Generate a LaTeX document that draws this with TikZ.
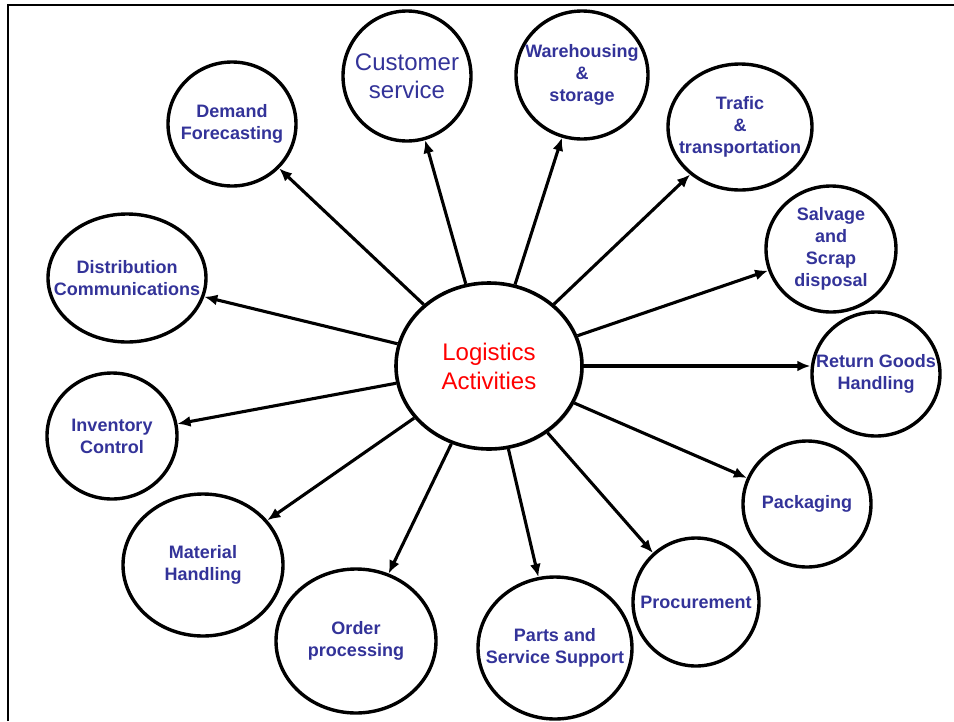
\documentclass[tikz,border=0pt]{standalone}
\usepackage{fontspec}
\setmainfont{Liberation Sans}
\usetikzlibrary{shapes.geometric, arrows.meta, shadows}
\definecolor{topicblue}{HTML}{333399}

\begin{document}
\begin{tikzpicture}[x=1pt, y=1pt,
  topic/.style={ellipse, draw, line width=3.4pt, fill=white, inner xsep=-40pt, inner ysep=0pt,
    align=center, text=topicblue, font=\bfseries\fontsize{18}{22}\selectfont},
  hub/.style={ellipse, draw, line width=3.6pt, fill=white, inner sep=0pt, align=center,
    text=red, font=\fontsize{24}{29}\selectfont,
    drop shadow={shadow xshift=1.8pt, shadow yshift=-1.5pt, fill=black!45}},
  link/.style={line width=3.1pt, -{Latex[length=13pt, width=11pt]}}]
\useasboundingbox (0,0) rectangle (954,-721);
\draw[line width=2.5pt] (8,-721) -- (8,-5) -- (954,-5);
% centre
\node[hub, minimum width=186pt, minimum height=166pt] (hub) at (489,-366) {Logistics\\Activities};
% activities round the centre
\node[topic, minimum width=128pt, minimum height=124pt] (demand) at (232,-124) {Demand\\Forecasting};
\node[topic, minimum width=128pt, minimum height=130pt, font=\fontsize{24}{28}\selectfont] (customer) at (407,-76) {Customer\\service};
\node[topic, minimum width=132pt, minimum height=128pt] (warehouse) at (582,-75) {Warehousing\\\&\\storage};
\node[topic, minimum width=144pt, minimum height=126pt] (trafic) at (740,-127) {Trafic\\\&\\transportation};
\node[topic, minimum width=130pt, minimum height=126pt] (salvage) at (831,-249) {Salvage\\and\\Scrap\\disposal};
\node[topic, minimum width=128pt, minimum height=124pt] (return) at (876,-374) {Return Goods\\Handling};
\node[topic, minimum width=128pt, minimum height=126pt] (packaging) at (807,-504) {Packaging};
\node[topic, minimum width=126pt, minimum height=128pt] (procure) at (696,-602) {Procurement};
\node[topic, minimum width=154pt, minimum height=142pt] (parts) at (555,-648) {Parts and\\Service Support};
\node[topic, minimum width=160pt, minimum height=144pt] (order) at (356,-641) {Order\\processing};
\node[topic, minimum width=160pt, minimum height=142pt] (material) at (203,-565) {Material\\Handling};
\node[topic, minimum width=130pt, minimum height=126pt] (inventory) at (112,-436) {Inventory\\Control};
\node[topic, minimum width=158pt, minimum height=128pt] (distrib) at (127,-278) {Distribution\\Communications};
% arrows
\draw[link] (hub) -- (demand);
\draw[link] (hub) -- (customer);
\draw[link] (hub) -- (warehouse);
\draw[link] (hub) -- (trafic);
\draw[link] (hub) -- (salvage);
\draw[link] (hub.east) -- (hub.east -| return.west);
\draw[link] (hub) -- (packaging);
\draw[link] (hub) -- (procure);
\draw[link] (hub) -- (parts);
\draw[link] (hub) -- (order);
\draw[link] (hub) -- (material);
\draw[link] (hub) -- (inventory);
\draw[link] (hub) -- (distrib);
\end{tikzpicture}
\end{document}
